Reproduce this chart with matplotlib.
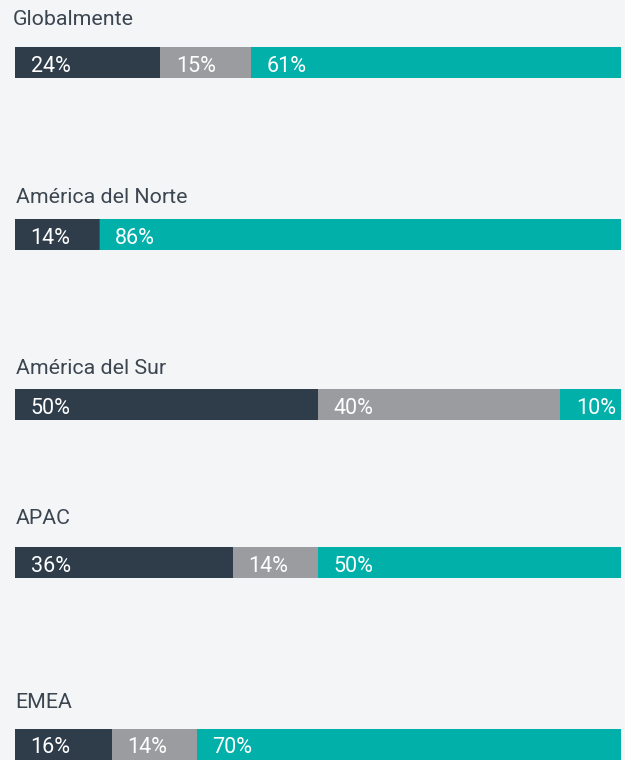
import matplotlib
matplotlib.use("Agg")
import matplotlib.pyplot as plt

# ---- data ----
regions = ["Globalmente", "América del Norte", "América del Sur", "APAC", "EMEA"]
dark_vals = [24, 14, 50, 36, 16]
gray_vals = [15, 0, 40, 14, 14]
teal_vals = [61, 86, 10, 50, 70]

# ---- style / layout (pixels) ----
W, H = 625, 760
DPI = 100
bg = "#f4f5f7"
colors = ["#2f3d4a", "#9a9c9f", "#00b0a9"]
title_color = "#3c4651"
bar_left, bar_width, bar_h = 15, 606, 31
bar_tops = [47.3, 219.3, 389.3, 547.3, 729]
title_baselines = [25, 202.7, 374, 524.3, 708.3]
title_x = [12.5, 15.5, 15.5, 15.5, 15]
label_pad_px = 15.5

fig = plt.figure(figsize=(W / DPI, H / DPI), dpi=DPI, facecolor=bg)

for i, name in enumerate(regions):
    top = bar_tops[i]
    ax = fig.add_axes([bar_left / W, 1 - (top + bar_h) / H, bar_width / W, bar_h / H])
    ax.set_facecolor(bg)
    ax.set_xlim(0, 100)
    ax.set_ylim(-0.5, 0.5)
    ax.axis("off")
    vals = [dark_vals[i], gray_vals[i], teal_vals[i]]
    left = 0
    for v, c in zip(vals, colors):
        if v == 0:
            ax.barh(0, v, left=left, height=1, color=c, edgecolor="white",
                    linewidth=0.9, clip_on=False)
        else:
            ax.barh(0, v, left=left, height=1, color=c, linewidth=0)
            x_lab = left + label_pad_px / bar_width * 100
            ax.text(x_lab, -0.03, f"{v}%", color="white", fontsize=15.5,
                    family="Roboto", ha="left", va="center_baseline")
        left += v
    fig.text(title_x[i] / W, 1 - title_baselines[i] / H, name, color=title_color,
             fontsize=15.4, family="Roboto", ha="left", va="baseline")

fig.savefig("out.png", dpi=DPI, facecolor=bg)
